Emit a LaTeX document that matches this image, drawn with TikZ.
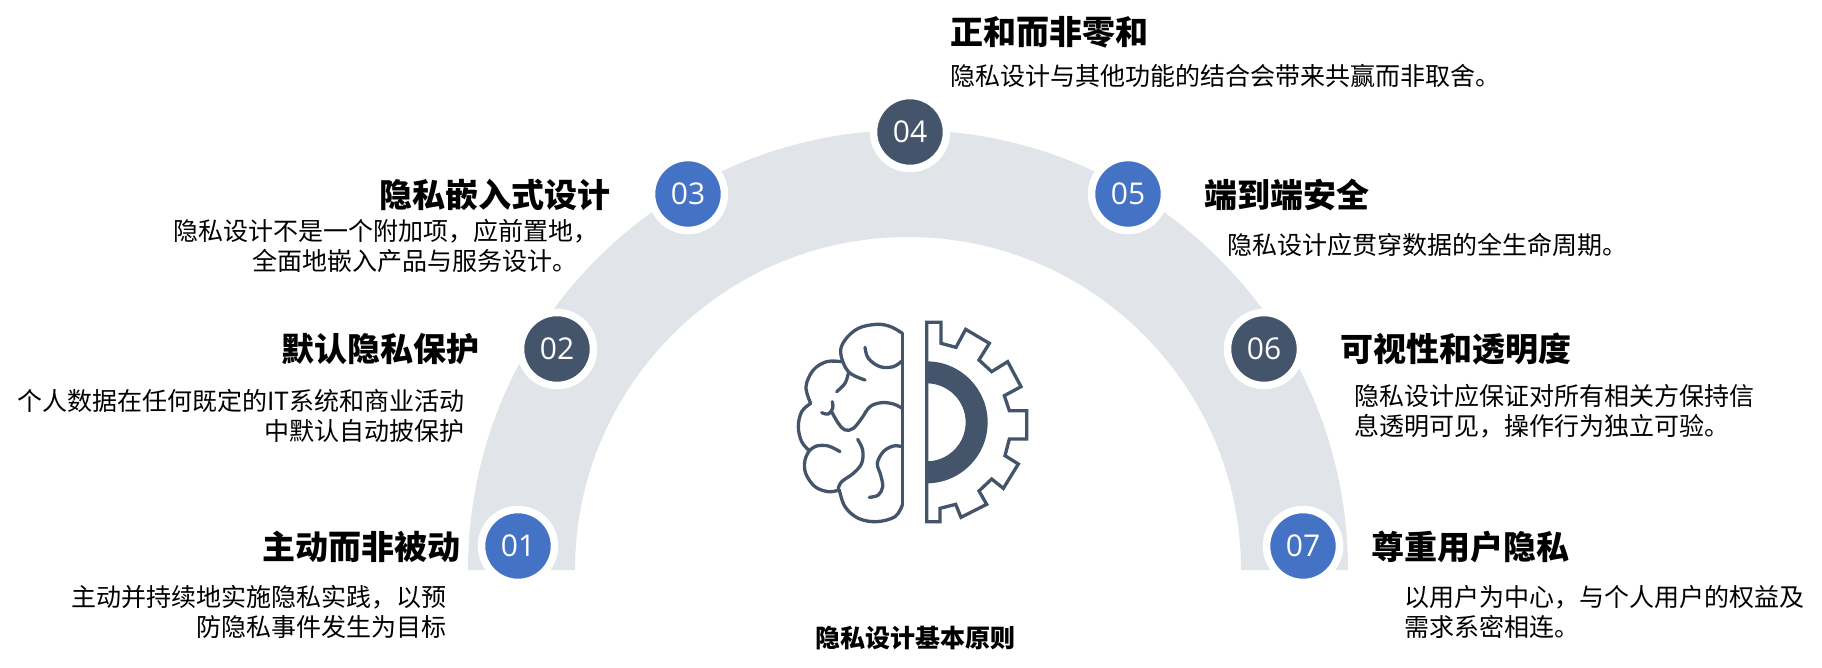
\documentclass[tikz,border=0pt]{standalone}
\usepackage{fontspec}
\setmainfont{Noto Sans CJK SC}
\newfontfamily\numfont{Open Sans}
\definecolor{navy}{HTML}{44546A}
\definecolor{azure}{HTML}{4472C4}
\definecolor{band}{HTML}{E1E4E8}
\tikzset{
  badge/.style={circle, draw=white, line width=7.5pt, minimum size=73pt, inner sep=0pt, text=white, font=\numfont\fontsize{30}{30}\selectfont},
  title/.style={inner sep=0pt, font=\fontsize{33}{38}\selectfont\bfseries},
  body/.style={inner sep=0pt, font=\fontsize{25}{30}\selectfont},
  icon/.style={navy, line width=3.3pt, line cap=round, line join=round},
}
\begin{document}
\begin{tikzpicture}[x=1pt, y=1pt, yscale=-1]
	\useasboundingbox (0,0) rectangle (1822,668);

	\fill[band] (468,570) arc[start angle=180, end angle=360, radius=440] -- (1241,570) arc[start angle=360, end angle=180, radius=333] -- cycle;

	\node[badge, fill=azure] (n1) at (518,546) {01};
	\node[badge, fill=navy] (n2) at (557,349) {02};
	\node[badge, fill=azure] (n3) at (688,194) {03};
	\node[badge, fill=navy] (n4) at (910,132) {04};
	\node[badge, fill=azure] (n5) at (1128,194) {05};
	\node[badge, fill=navy] (n6) at (1264,349) {06};
	\node[badge, fill=azure] (n7) at (1303,546) {07};

	\node[title, anchor=east] (t1) at (461,547) {主动而非被动};
	\node[body, anchor=east, align=right] (b1) at (447,612) {主动并持续地实施隐私实践，以预\\防隐私事件发生为目标};
	\node[title, anchor=east] (t2) at (480,349) {默认隐私保护};
	\node[body, anchor=east, align=right] (b2) at (465,416) {个人数据在任何既定的IT系统和商业活动\\中默认自动披保护};
	\node[title, anchor=east] (t3) at (611,195) {隐私嵌入式设计};
	\node[body, anchor=east, align=right] (b3) at (599,246) {隐私设计不是一个附加项，应前置地，\\全面地嵌入产品与服务设计。\hspace*{21pt}};
	\node[title, anchor=west] (t4) at (950,32) {正和而非零和};
	\node[body, anchor=west] (b4) at (950,76) {隐私设计与其他功能的结合会带来共赢而非取舍。};
	\node[title, anchor=west] (t5) at (1204,195) {端到端安全};
	\node[body, anchor=west] (b5) at (1227,245) {隐私设计应贯穿数据的全生命周期。};
	\node[title, anchor=west] (t6) at (1340,349) {可视性和透明度};
	\node[body, anchor=west, align=left] (b6) at (1354,411) {隐私设计应保证对所有相关方保持信\\息透明可见，操作行为独立可验。};
	\node[title, anchor=west] (t7) at (1371,547) {尊重用户隐私};
	\node[body, anchor=west, align=left] (b7) at (1404,612) {以用户为中心，与个人用户的权益及\\需求系密相连。};

	\node[inner sep=0pt, font=\fontsize{25}{30}\selectfont\bfseries] (cap) at (915,638) {隐私设计基本原则};

	% brain and gear, traced in 3x units
	\begin{scope}[shift={(760,290)}, scale=1/3]
		\draw[icon] (427,130) -- (427,645);
		\draw[icon] plot[smooth, tension=.6] coordinates {(427,130) (392,110) (350,103) (295,115) (255,150) (242,190) (265,245) (315,270)};
		\draw[icon] plot[smooth, tension=.6] coordinates {(243,215) (200,215) (160,240) (138,290) (152,340)};
		\draw[icon] plot[smooth, tension=.6] coordinates {(152,340) (125,365) (115,410) (125,455) (148,482)};
		\draw[icon] plot[smooth, tension=.6] coordinates {(148,482) (135,510) (137,550) (165,590) (205,605) (238,600)};
		\draw[icon] plot[smooth, tension=.6] coordinates {(238,600) (255,650) (295,685) (350,695) (405,680) (427,645)};
		\draw[icon] plot[smooth, tension=.6] coordinates {(315,172) (325,205) (360,230) (400,230) (427,212)};
		\draw[icon] plot[smooth, tension=.6] coordinates {(265,250) (255,280) (230,305)};
		\draw[icon] plot[smooth, tension=.6] coordinates {(427,355) (400,342) (365,338) (330,350) (305,385) (280,415) (255,420) (235,400) (215,365)};
		\draw[icon] plot[smooth, tension=.6] coordinates {(217,335) (218,355) (205,372) (185,368)};
		\draw[icon] plot[smooth, tension=.6] coordinates {(148,482) (170,468) (205,468) (240,485)};
		\draw[icon] plot[smooth, tension=.6] coordinates {(293,448) (308,480) (305,520) (280,550) (245,575) (235,595)};
		\draw[icon] plot[smooth, tension=.6] coordinates {(427,470) (400,468) (370,485) (352,520) (362,555) (368,590) (355,615) (328,622)};

		\draw[icon, line cap=butt, line join=miter] (500,97) -- (543,97) -- (543,160) -- (588,172) -- (617,118) -- (688,160) -- (657,210) -- (695,245) -- (743,215) -- (783,290) -- (733,317) -- (748,362) -- (800,362) -- (800,447) -- (748,447) -- (735,497) -- (775,522) -- (730,595) -- (695,567) -- (657,603) -- (680,643) -- (603,682) -- (587,643) -- (540,655) -- (540,695) -- (500,695) -- cycle;
		\fill[navy] (500,214) arc[start angle=-90, end angle=90, radius=183] -- (500,514) arc[start angle=90, end angle=-90, radius=117] -- cycle;
	\end{scope}
\end{tikzpicture}
\end{document}
